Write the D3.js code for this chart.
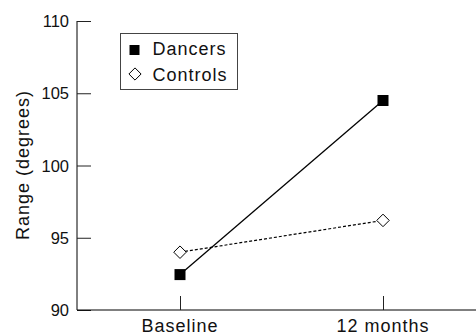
<!DOCTYPE html>
<html>
<head>
<meta charset="utf-8">
<script src="https://cdn.jsdelivr.net/npm/d3@7"></script>
<style>
  body { margin: 0; background: #fff; }
  text { font-family: "Liberation Sans", Arial, sans-serif; fill: #111; }
</style>
</head>
<body>
<svg id="chart" width="476" height="335"></svg>
<script>
const categories = ["Baseline", "12 months"];
const dancers = [92.45, 104.5];
const controls = [94.0, 96.2];
const yTicks = [90, 95, 100, 105, 110];

const margin = { top: 21, right: 0, bottom: 25, left: 77 };
const width = 476 - margin.left - margin.right;
const height = 335 - margin.top - margin.bottom;

const svg = d3.select("#chart");
const g = svg.append("g")
  .attr("transform", `translate(${margin.left},${margin.top})`);

const x = d3.scalePoint()
  .domain(categories)
  .range([103, 306]);

const y = d3.scaleLinear()
  .domain([90, 110])
  .range([height, 0]);

// y axis, ticks pointing inward
const yAxis = g.append("g")
  .call(d3.axisRight(y).tickValues(yTicks).tickSize(14).tickFormat(""));
yAxis.select(".domain").attr("d", `M0,0V${height}`);
yAxis.selectAll("line").attr("stroke", "#222");

g.selectAll(".ylab")
  .data(yTicks)
  .enter().append("text")
  .attr("x", -8)
  .attr("y", d => y(d) + 6)
  .attr("text-anchor", "end")
  .attr("font-size", 16.5)
  .text(d => d);

// x axis, ticks pointing up
const xAxis = g.append("g")
  .attr("transform", `translate(0,${height})`)
  .call(d3.axisTop(x).tickSize(14).tickFormat(""));
xAxis.select(".domain").attr("d", `M0,0H${width}`);
xAxis.selectAll("line").attr("stroke", "#222");

g.selectAll(".xlab")
  .data(categories)
  .enter().append("text")
  .attr("x", d => x(d))
  .attr("y", height + 22)
  .attr("text-anchor", "middle")
  .attr("font-size", 18)
  .attr("letter-spacing", 1)
  .text(d => d);

svg.append("text")
  .attr("transform", `translate(29,165) rotate(-90)`)
  .attr("text-anchor", "middle")
  .attr("font-size", 18)
  .attr("letter-spacing", 1)
  .text("Range (degrees)");

const line = d3.line()
  .x((d, i) => x(categories[i]))
  .y(d => y(d));

g.append("path")
  .datum(controls)
  .attr("d", line)
  .attr("fill", "none")
  .attr("stroke", "#000")
  .attr("stroke-width", 1.2)
  .attr("stroke-dasharray", "3,2");

g.append("path")
  .datum(dancers)
  .attr("d", line)
  .attr("fill", "none")
  .attr("stroke", "#000")
  .attr("stroke-width", 1.3);

const square = d3.symbol().type(d3.symbolSquare).size(121);
const diamond = d3.symbol().type(d3.symbolDiamond2).size(100);

g.selectAll(".ctrl")
  .data(controls)
  .enter().append("path")
  .attr("transform", (d, i) => `translate(${x(categories[i])},${y(d)})`)
  .attr("d", diamond)
  .attr("fill", "#fff")
  .attr("stroke", "#000")
  .attr("stroke-width", 1);

g.selectAll(".dan")
  .data(dancers)
  .enter().append("path")
  .attr("transform", (d, i) => `translate(${x(categories[i])},${y(d)})`)
  .attr("d", square)
  .attr("fill", "#000");

// legend
const legend = svg.append("g").attr("transform", "translate(120,33)");
legend.append("rect")
  .attr("x", 0.5).attr("y", 0.5)
  .attr("width", 117).attr("height", 56)
  .attr("fill", "#fff")
  .attr("stroke", "#444");
legend.append("path")
  .attr("transform", "translate(14.5,17)")
  .attr("d", d3.symbol().type(d3.symbolSquare).size(100))
  .attr("fill", "#000");
legend.append("path")
  .attr("transform", "translate(15,41)")
  .attr("d", d3.symbol().type(d3.symbolDiamond2).size(95))
  .attr("fill", "#fff")
  .attr("stroke", "#000");
legend.append("text").attr("x", 32.5).attr("y", 22).attr("font-size", 18).attr("letter-spacing", 1).text("Dancers");
legend.append("text").attr("x", 32.5).attr("y", 48).attr("font-size", 18).attr("letter-spacing", 1).text("Controls");
</script>
</body>
</html>
